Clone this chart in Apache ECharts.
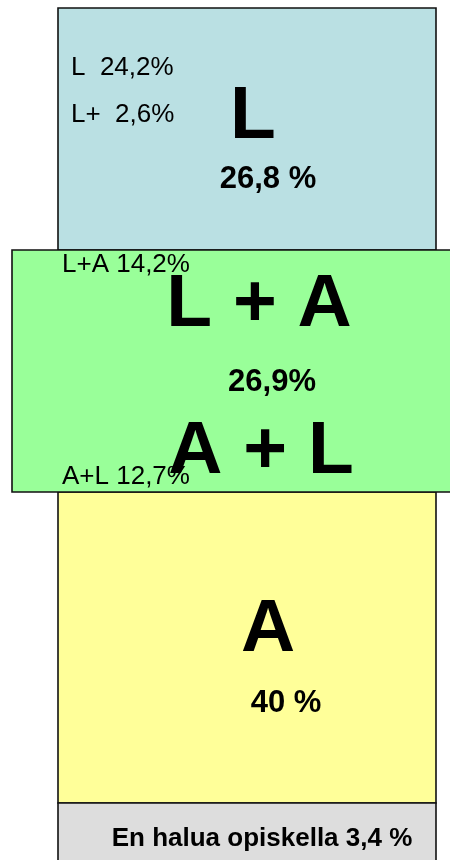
<!DOCTYPE html>
<html lang="fi">
<head>
    <meta charset="UTF-8">
    <title>Opiskelutyylit</title>
    <style>
        html, body { margin: 0; padding: 0; background: #fff; }
        .chart { width: 450px; height: 860px; }
    </style>
    <script src="https://cdn.jsdelivr.net/npm/echarts@6/dist/echarts.min.js"></script>
</head>
<body>
<div class="chart"></div>
<script>
// ryhmät ja osuudet (%)
var bands = ['L', 'L + A', 'A', 'En halua opiskella'];
var bandShares = [26.8, 26.9, 40, 3.4];
var shareSuffix = [' %', '%', ' %', ' %'];
// alaryhmät
var subGroups = ['L', 'L+', 'L+A', 'A+L'];
var subShares = [24.2, 2.6, 14.2, 12.7];
// laatikoiden korkeudet kuvasta luettuna
var bandHeights = [242, 242, 311, 60];

function fmt(v) { return String(v).replace('.', ','); }

// laatikoiden asettelu
var boxFill = ['#bae0e3', '#99ff99', '#ffff99', '#dddddd'];
var boxSide = [[58, 436], [12, 452], [58, 436], [58, 436]];
var boxZ = [1, 10, 1, 1];
var topStart = 8;

var data = [];
var y = topStart;
for (var i = 0; i < bands.length; i++) {
    data.push([i, y, y + bandHeights[i], boxSide[i][0], boxSide[i][1]]);
    y += bandHeights[i];
}

var font = 'Liberation Sans, Arial, sans-serif';
function txt(s, x, yy, size, bold, align) {
    return {
        type: 'text', z2: 50,
        style: {
            text: s, x: x, y: yy, fill: '#000',
            font: (bold ? 'bold ' : '') + size + 'px ' + font,
            align: align || 'center', verticalAlign: 'middle'
        }
    };
}

// tekstit kunkin laatikon sisällä
function bandTexts(i) {
    var share = fmt(bandShares[i]) + shareSuffix[i];
    if (i === 0) return [
        txt(subGroups[0] + '  ' + fmt(subShares[0]) + '%', 71, 68, 26, false, 'left'),
        txt(subGroups[1] + '  ' + fmt(subShares[1]) + '%', 71, 115, 26, false, 'left'),
        txt(bands[0], 253, 117, 75, true),
        txt(share, 268, 179, 31, true)
    ];
    if (i === 1) return [
        txt(subGroups[2] + ' ' + fmt(subShares[2]) + '%', 62, 265, 26, false, 'left'),
        txt(bands[1], 259, 305, 75, true),
        txt(share, 272, 382, 31, true),
        txt('A + L', 261, 452, 75, true),
        txt(subGroups[3] + ' ' + fmt(subShares[3]) + '%', 62, 477, 26, false, 'left')
    ];
    if (i === 2) return [
        txt(bands[2], 268, 630, 75, true),
        txt(share, 286, 703, 31, true)
    ];
    return [txt(bands[3] + ' ' + share, 262, 839, 26, true)];
}

var chart = echarts.init(document.querySelector('.chart'));
chart.setOption({
    animation: false,
    grid: { left: 0, right: 0, top: 0, bottom: 0 },
    xAxis: { type: 'value', min: 0, max: 450, show: false },
    yAxis: { type: 'value', min: 0, max: 860, inverse: true, show: false },
    series: [{
        type: 'custom',
        data: data,
        renderItem: function (params, api) {
            var i = api.value(0);
            var p0 = api.coord([api.value(3), api.value(1)]);
            var p1 = api.coord([api.value(4), api.value(2)]);
            var children = [{
                type: 'rect', z2: boxZ[i],
                shape: { x: p0[0], y: p0[1], width: p1[0] - p0[0], height: p1[1] - p0[1] },
                style: { fill: boxFill[i], stroke: '#111', lineWidth: 1.6 }
            }];
            return { type: 'group', children: children.concat(bandTexts(i)) };
        }
    }]
});
</script>
</body>
</html>
